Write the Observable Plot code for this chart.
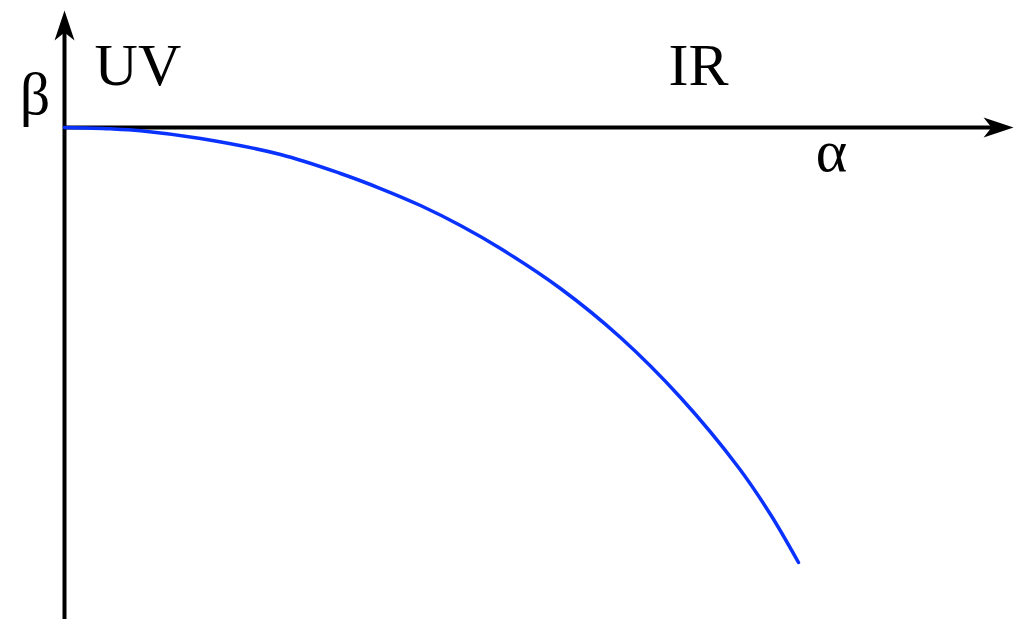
<!DOCTYPE html>
<html>
<head>
<meta charset="utf-8">
<script src="https://cdn.jsdelivr.net/npm/d3@7"></script>
<script src="https://cdn.jsdelivr.net/npm/@observablehq/plot@0.6"></script>
<style>
  html, body { margin: 0; padding: 0; background: #fff; }
  #chart svg text { font-family: "Liberation Serif", "Times New Roman", "DejaVu Serif", serif; }
</style>
</head>
<body>
<div id="chart"></div>
<script>
// Flow curve in the (alpha, beta) plane, from UV (origin) toward IR
const alpha = [0, 0.0627, 0.1035, 0.1853, 0.2943, 0.3760, 0.4305, 0.4850, 0.5395, 0.5940, 0.6757, 0.7575, 0.8392, 0.9183, 0.9619, 1.0];
const beta  = [0, -0.0030, -0.0074, -0.0253, -0.0621, -0.1057, -0.1402, -0.1793, -0.2253, -0.2782, -0.3701, -0.4828, -0.6207, -0.7816, -0.8897, -1.0];

// Axis extents (alpha axis along beta = 0, beta axis along alpha = 0)
const alphaAxisEnd = 1.293;
const betaAxisTop = 0.269;
const betaAxisBottom = -1.131;

// Text labels: content and anchor point in data units
const labelText   = ["UV", "IR", "β", "α"];
const labelAlpha  = [0.041, 0.823, -0.061, 1.045];
const labelBeta   = [0.097, 0.097, 0.030, -0.099];
const labelAnchor = ["start", "start", "start", "middle"];

const curve = alpha.map((a, i) => ({alpha: a, beta: beta[i]}));
const labels = labelText.map((t, i) => ({text: t, alpha: labelAlpha[i], beta: labelBeta[i], anchor: labelAnchor[i]}));

// Filled stealth arrowhead, tip at the origin, pointing right
const stealth = {
  draw(context) {
    context.moveTo(0, 0);
    context.lineTo(-30, -10);
    context.lineTo(-22, 0);
    context.lineTo(-30, 10);
    context.closePath();
  }
};

const textStyle = {
  x: "alpha", y: "beta", text: "text", lineAnchor: "bottom",
  fontSize: 60, fontFamily: "Liberation Serif", fill: "black"
};

const chart = Plot.plot({
  width: 1027,
  height: 619,
  margin: 0,
  x: {axis: null, domain: [-0.0872, 1.312]},
  y: {axis: null, domain: [-1.131, 0.292]},
  style: {background: "white"},
  marks: [
    Plot.ruleY([0], {x1: 0, x2: alphaAxisEnd - 0.02, stroke: "black", strokeWidth: 4}),
    Plot.ruleX([0], {y1: betaAxisBottom, y2: betaAxisTop - 0.04, stroke: "black", strokeWidth: 4}),
    Plot.dot([{a: alphaAxisEnd, b: 0}], {x: "a", y: "b", symbol: stealth, fill: "black", stroke: "none", rotate: 0}),
    Plot.dot([{a: 0, b: betaAxisTop}], {x: "a", y: "b", symbol: stealth, fill: "black", stroke: "none", rotate: -90}),
    Plot.line(curve, {x: "alpha", y: "beta", stroke: "#0a32ff", strokeWidth: 3.5, curve: "catmull-rom"}),
    Plot.text(labels.filter(d => d.anchor === "start"), {...textStyle, textAnchor: "start"}),
    Plot.text(labels.filter(d => d.anchor === "middle"), {...textStyle, textAnchor: "middle"})
  ]
});

document.getElementById("chart").append(chart);
</script>
</body>
</html>
